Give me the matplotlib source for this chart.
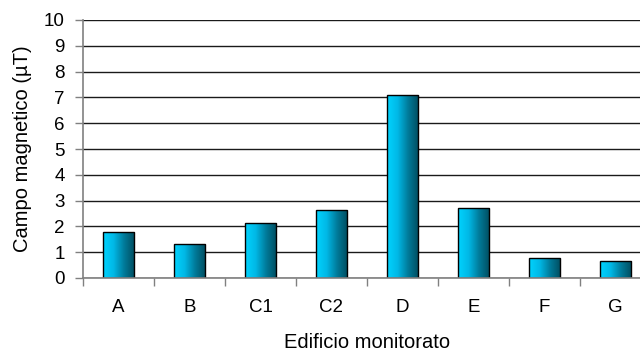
import numpy as np
import matplotlib.pyplot as plt
from matplotlib.colors import LinearSegmentedColormap

edifici = ["A", "B", "C1", "C2", "D", "E", "F", "G"]
campo = [1.8, 1.3, 2.12, 2.65, 7.1, 2.7, 0.78, 0.66]

plt.rcParams['font.family'] = ['Liberation Sans', 'DejaVu Sans']

fig = plt.figure(figsize=(6.4, 3.52), dpi=100)
ax = fig.add_axes([83 / 640, 1 - 278 / 352, 568 / 640, 258 / 352])

x = np.arange(len(edifici))
bars = ax.bar(x, campo, width=0.44, color='none', edgecolor='black', linewidth=1.0, zorder=3)

# gradiente ciano chiaro -> petrolio scuro
cmap = LinearSegmentedColormap.from_list("ciano", ["#00d4ff", "#00b8e6", "#007a99", "#004c5e"])
grad = np.linspace(0, 1, 256).reshape(1, -1)
for b in bars:
    x0, y0 = b.get_x(), b.get_y()
    w, h = b.get_width(), b.get_height()
    im = ax.imshow(grad, cmap=cmap, aspect='auto', extent=[x0, x0 + w, y0, y0 + h], zorder=2)
    im.set_clip_path(b)

ax.set_xlim(-0.5, len(edifici) - 0.5)
ax.set_ylim(0, 10)
ax.set_yticks(range(0, 11))
ax.set_xticks(x)
ax.set_xticklabels(edifici)
ax.set_xticks(np.arange(-0.5, len(edifici), 1), minor=True)
ax.tick_params(axis='x', which='major', length=0, pad=15, labelsize=13.5)
ax.tick_params(axis='x', which='minor', length=6, width=1, color='#808080', direction='out')
ax.tick_params(axis='y', length=6, width=1, color='#808080', direction='out', labelsize=13.5, pad=7)

ax.yaxis.grid(True, color='#1a1a1a', linewidth=1)
ax.set_axisbelow(True)
for s in ['top', 'right']:
    ax.spines[s].set_visible(False)
for s in ['left', 'bottom']:
    ax.spines[s].set_color('#808080')
    ax.spines[s].set_linewidth(1.2)
ax.spines['bottom'].set_zorder(4)

ax.set_ylabel("Campo magnetico (µT)", fontsize=14.5, labelpad=9)
ax.set_xlabel("Edificio monitorato", fontsize=14.5, labelpad=12)

fig.savefig("out.png", dpi=100)
